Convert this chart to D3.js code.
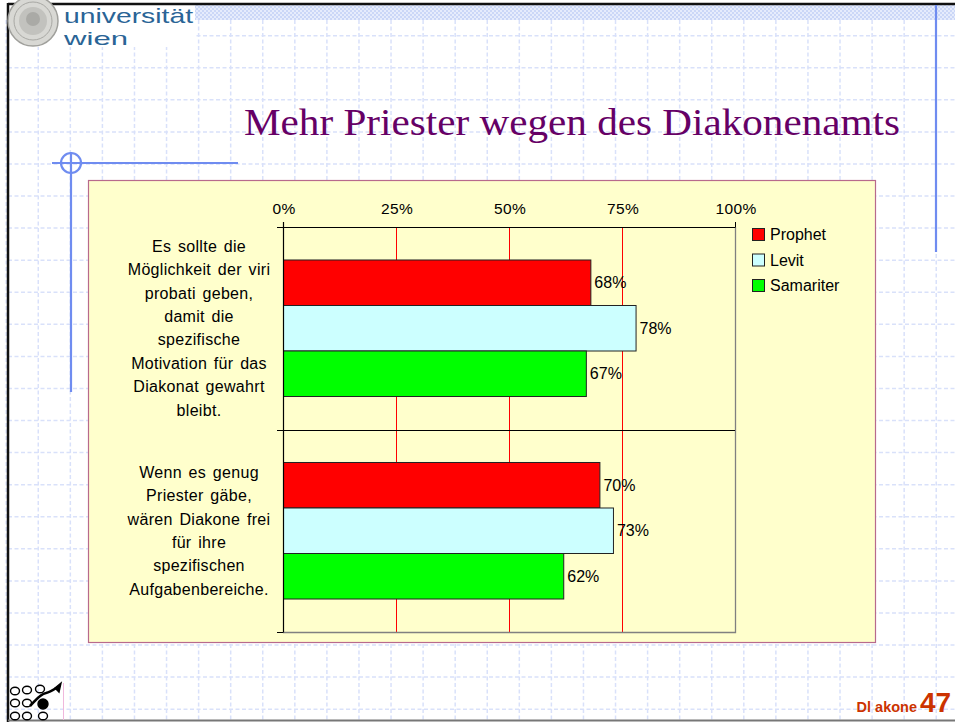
<!DOCTYPE html>
<html>
<head>
<meta charset="utf-8">
<script src="https://cdn.jsdelivr.net/npm/d3@7"></script>
<style>
  html, body { margin: 0; padding: 0; background: #fff; }
  svg { display: block; }
</style>
</head>
<body>
<svg id="slide" width="955" height="722"></svg>
<script>
// Survey answers: share of agreement per respondent type
const categories = [
  ["Es sollte die", "Möglichkeit der viri", "probati geben,", "damit die", "spezifische", "Motivation für das", "Diakonat gewahrt", "bleibt."],
  ["Wenn es genug", "Priester gäbe,", "wären Diakone frei", "für ihre", "spezifischen", "Aufgabenbereiche."]
];
const seriesNames = ["Prophet", "Levit", "Samariter"];
const prophet = [0.68, 0.70];
const levit = [0.78, 0.73];
const samariter = [0.67, 0.62];
const tickValues = [0, 0.25, 0.5, 0.75, 1];
const tickLabels = ["0%", "25%", "50%", "75%", "100%"];
const seriesColors = ["#FF0000", "#CCFFFF", "#00FF00"];

const values = [prophet, levit, samariter];
const svg = d3.select("#slide");
const W = 955, H = 722;

// ---------- slide background: dashed grid ----------
const gridStep = 32.07;
const bg = svg.append("g").attr("class", "bg-grid")
  .attr("stroke", "#d9e1fa").attr("stroke-width", 1.5)
  .attr("stroke-dasharray", "4,2.5");
for (let x = 6.2; x < W; x += gridStep) {
  bg.append("line").attr("x1", x).attr("x2", x).attr("y1", 20).attr("y2", H);
}
for (let y = 35.7; y < H; y += gridStep) {
  bg.append("line").attr("x1", 8).attr("x2", W).attr("y1", y).attr("y2", y);
}

// checkered strip at the top
const defs = svg.append("defs");
const pat = defs.append("pattern").attr("id", "checker")
  .attr("width", 4).attr("height", 4).attr("patternUnits", "userSpaceOnUse");
pat.append("rect").attr("width", 4).attr("height", 4).attr("fill", "#e6ecfc");
pat.append("rect").attr("width", 2).attr("height", 2).attr("fill", "#cbd7f7");
pat.append("rect").attr("x", 2).attr("y", 2).attr("width", 2).attr("height", 2).attr("fill", "#cbd7f7");
svg.append("rect").attr("x", 195).attr("y", 5).attr("width", W - 195).attr("height", 15)
  .attr("fill", "url(#checker)");

// white area behind the logo
svg.append("rect").attr("x", 9).attr("y", 5).attr("width", 186).attr("height", 42).attr("fill", "#fff");

// frame lines
svg.append("line").attr("x1", 8).attr("x2", W).attr("y1", 4).attr("y2", 4)
  .attr("stroke", "#111").attr("stroke-width", 2.5);
svg.append("line").attr("x1", 8).attr("x2", 8).attr("y1", 3).attr("y2", H)
  .attr("stroke", "#111").attr("stroke-width", 2.5);
svg.append("line").attr("x1", 8).attr("x2", W).attr("y1", 720.5).attr("y2", 720.5)
  .attr("stroke", "#777").attr("stroke-width", 2);

// blue decoration lines
const deco = svg.append("g").attr("stroke", "#6f8cf0").attr("stroke-width", 2.2).attr("fill", "none");
deco.append("line").attr("x1", 936).attr("x2", 936).attr("y1", 5).attr("y2", 252);
deco.append("line").attr("x1", 52).attr("x2", 238).attr("y1", 163).attr("y2", 163);
deco.append("line").attr("x1", 71).attr("x2", 71).attr("y1", 152).attr("y2", 392);
deco.append("circle").attr("cx", 71).attr("cy", 163).attr("r", 10);

// ---------- logo ----------
const logo = svg.append("g");
logo.append("circle").attr("cx", 33).attr("cy", 21).attr("r", 25).attr("fill", "#d8d8d4").attr("stroke", "#a0a09c").attr("stroke-width", 1.5);
logo.append("circle").attr("cx", 33).attr("cy", 21).attr("r", 19).attr("fill", "none").attr("stroke", "#a8a8a4").attr("stroke-width", 1);
logo.append("circle").attr("cx", 33).attr("cy", 21).attr("r", 14).attr("fill", "#c2c2be");
logo.append("circle").attr("cx", 33).attr("cy", 19).attr("r", 7).attr("fill", "#aaaaa6");
logo.append("text").attr("x", 64).attr("y", 23)
  .attr("font-family", "Liberation Sans, Arial, sans-serif").attr("font-size", 21)
  .attr("fill", "#2a6496").attr("textLength", 129).attr("lengthAdjust", "spacingAndGlyphs")
  .text("universität");
logo.append("text").attr("x", 64).attr("y", 45)
  .attr("font-family", "Liberation Sans, Arial, sans-serif").attr("font-size", 19)
  .attr("fill", "#2a6496").attr("textLength", 64).attr("lengthAdjust", "spacingAndGlyphs")
  .text("wien");

// ---------- title ----------
svg.append("text").attr("x", 244).attr("y", 135)
  .attr("font-family", "Liberation Serif, Times New Roman, serif").attr("font-size", 38)
  .attr("fill", "#660066").attr("textLength", 656).attr("lengthAdjust", "spacingAndGlyphs")
  .text("Mehr Priester wegen des Diakonenamts");

// ---------- chart panel ----------
svg.append("rect").attr("x", 88.5).attr("y", 180.5).attr("width", 787).attr("height", 462)
  .attr("fill", "#FFFFCC").attr("stroke", "#b86a8c").attr("stroke-width", 1.2);

const plot = { left: 283, right: 735, top: 227, bottom: 632 };
const x = d3.scaleLinear().domain([0, 1]).range([plot.left, plot.right]);
const yCat = d3.scaleBand().domain(d3.range(categories.length))
  .range([plot.top, plot.bottom]).paddingInner(0).paddingOuter(0);
const ySer = d3.scaleBand().domain(seriesNames)
  .range([0, yCat.bandwidth()]).paddingInner(0).paddingOuter(0.725);

const font = "Liberation Sans, Arial, sans-serif";

// vertical gridlines
svg.append("g").selectAll("line").data(tickValues.slice(1, -1)).join("line")
  .attr("x1", d => Math.round(x(d)) + 0.5).attr("x2", d => Math.round(x(d)) + 0.5)
  .attr("y1", plot.top).attr("y2", plot.bottom)
  .attr("stroke", "#FF0000").attr("stroke-width", 1);

// plot area border (right / bottom)
svg.append("path")
  .attr("d", `M${plot.right + 0.5},${plot.top} V${plot.bottom + 0.5} H${plot.left}`)
  .attr("fill", "none").attr("stroke", "#808080").attr("stroke-width", 1.3);

// top axis with percent labels
const topAxis = d3.axisTop(x).tickValues(tickValues)
  .tickFormat((d, i) => tickLabels[i]).tickSize(0).tickPadding(14);
const gTop = svg.append("g").attr("transform", `translate(0.5,${plot.top + 0.5})`).call(topAxis);
gTop.select(".domain").attr("stroke", "#000").attr("d", `M${plot.left - 6},0H${plot.right}`);
gTop.selectAll("text").attr("font-family", font).attr("font-size", 15.5)
  .attr("letter-spacing", 0.4).attr("fill", "#000");
svg.append("g").selectAll("line").data([0, 1]).join("line")
  .attr("x1", d => x(d) + 0.5).attr("x2", d => x(d) + 0.5)
  .attr("y1", plot.top - 5).attr("y2", plot.top)
  .attr("stroke", "#000");

// category separators and left axis ticks
const bounds = d3.range(categories.length + 1).map(i =>
  i < categories.length ? yCat(i) : yCat(i - 1) + yCat.bandwidth());
svg.append("g").selectAll("line").data(bounds).join("line")
  .attr("x1", plot.left - 6).attr("x2", (d, i) => (i === 0 || i === bounds.length - 1) ? plot.left : plot.right)
  .attr("y1", d => Math.round(d) + 0.5).attr("y2", d => Math.round(d) + 0.5)
  .attr("stroke", "#000").attr("stroke-width", 1);

// bars
const bars = svg.append("g");
seriesNames.forEach((s, si) => {
  const g = bars.append("g");
  g.selectAll("rect").data(values[si]).join("rect")
    .attr("x", x(0) + 0.5)
    .attr("y", (d, ci) => yCat(ci) + ySer(s))
    .attr("width", d => x(d) - x(0))
    .attr("height", ySer.bandwidth())
    .attr("fill", seriesColors[si])
    .attr("stroke", "#222").attr("stroke-width", 1);
  g.selectAll("text").data(values[si]).join("text")
    .attr("x", d => x(d) + 4)
    .attr("y", (d, ci) => yCat(ci) + ySer(s) + ySer.bandwidth() / 2 + 5.5)
    .attr("font-family", font).attr("font-size", 16).attr("fill", "#000")
    .text(d => Math.round(d * 100) + "%");
});

// left axis line
svg.append("line").attr("x1", plot.left + 0.5).attr("x2", plot.left + 0.5)
  .attr("y1", plot.top - 5).attr("y2", plot.bottom + 0.5)
  .attr("stroke", "#000").attr("stroke-width", 1.2);

// category labels
const lineH = 23.4;
categories.forEach((lines, ci) => {
  const cy = yCat(ci) + yCat.bandwidth() / 2;
  const t = svg.append("text").attr("font-family", font).attr("font-size", 16)
    .attr("letter-spacing", 0.3).attr("word-spacing", 2)
    .attr("fill", "#000").attr("text-anchor", "middle");
  lines.forEach((ln, li) => {
    t.append("tspan").attr("x", 199)
      .attr("y", cy + (li - (lines.length - 1) / 2) * lineH + 5.5)
      .text(ln);
  });
});

// legend
const legend = svg.append("g").attr("transform", "translate(752,228)");
seriesNames.forEach((s, si) => {
  const g = legend.append("g").attr("transform", `translate(0,${si * 25.5})`);
  g.append("rect").attr("x", 0.5).attr("y", 0.5).attr("width", 12).attr("height", 12)
    .attr("fill", seriesColors[si]).attr("stroke", "#222");
  g.append("text").attr("x", 18).attr("y", 12)
    .attr("font-family", font).attr("font-size", 16).attr("fill", "#000").text(s);
});

// ---------- footer ----------
const icon = svg.append("g").attr("stroke", "#000").attr("stroke-width", 1.4).attr("fill", "none");
[[15, 691], [27, 690], [40, 689], [15, 703], [27, 703], [15, 716], [27, 716], [43, 716]].forEach(([cx, cy]) => {
  icon.append("ellipse").attr("cx", cx).attr("cy", cy).attr("rx", 4.5).attr("ry", 3.8);
});
icon.append("circle").attr("cx", 43).attr("cy", 704).attr("r", 5).attr("fill", "#000");
icon.append("path").attr("d", "M30,706 C36,700 40,694 46,693 C50,692 53,690 58,687")
  .attr("stroke-width", 2.6);
icon.append("path").attr("d", "M55,688 L61,683 L59,692 Z").attr("fill", "#000");
svg.append("line").attr("x1", 63.5).attr("x2", 63.5).attr("y1", 683).attr("y2", 720)
  .attr("stroke", "#f0b8dc").attr("stroke-width", 1);

svg.append("text").attr("x", 917).attr("y", 712).attr("text-anchor", "end")
  .attr("fill", "#cc3300").attr("font-family", "Liberation Sans, Arial, sans-serif")
  .attr("font-weight", "bold").attr("font-size", 14.5).text("Dl akone");
svg.append("text").attr("x", 920).attr("y", 712)
  .attr("fill", "#cc3300").attr("font-family", "Liberation Sans, Arial, sans-serif")
  .attr("font-weight", "bold").attr("font-size", 28).text("47");
</script>
</body>
</html>
